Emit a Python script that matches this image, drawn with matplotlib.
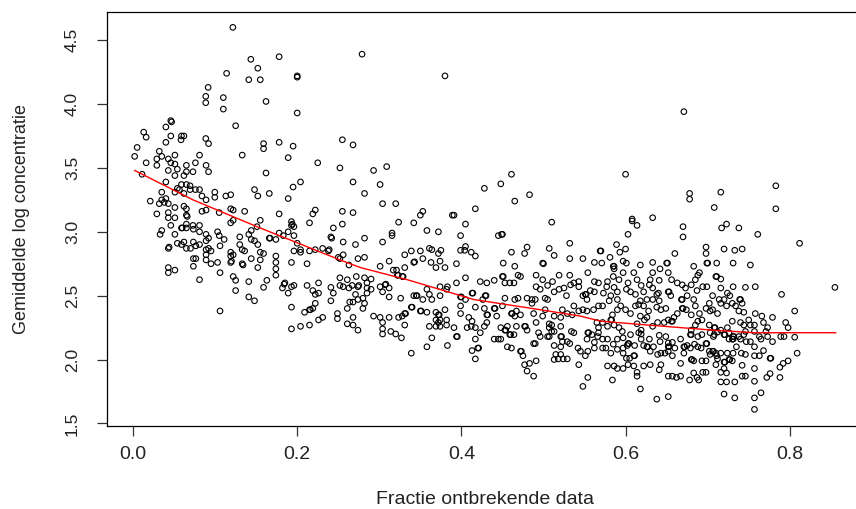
import matplotlib
matplotlib.use("Agg")
import matplotlib.pyplot as plt

plt.rcParams['font.family'] = ['Liberation Sans', 'DejaVu Sans']

# points, (fractie, gemiddelde log concentratie), per region
pts_upper_left = [
    (0.1216,4.60),(0.1435,4.35),(0.178,4.37),(0.152,4.28),(0.141,4.19),(0.155,4.19),(0.200,4.21),(0.200,4.22),
    (0.114,4.24),(0.0915,4.13),(0.0886,4.06),(0.0886,4.01),(0.110,4.05),(0.110,3.96),(0.162,4.02),(0.200,3.93),
    (0.125,3.83),(0.046,3.87),(0.047,3.86),(0.040,3.82),(0.013,3.78),(0.016,3.74),(0.046,3.75),(0.059,3.75),
    (0.062,3.75),(0.0585,3.72),(0.040,3.70),(0.0886,3.73),(0.092,3.69),(0.005,3.66),(0.002,3.59),(0.032,3.63),
    (0.029,3.57),(0.035,3.59),(0.043,3.57),(0.051,3.60),(0.046,3.54),(0.051,3.53),(0.016,3.54),(0.029,3.52),
    (0.065,3.52),(0.076,3.54),(0.081,3.60),(0.089,3.52),(0.043,3.48),(0.054,3.49),(0.065,3.47),(0.073,3.47),
    (0.092,3.47),(0.051,3.44),(0.062,3.44),(0.011,3.45),(0.133,3.60),(0.159,3.69),(0.178,3.70),(0.195,3.67),
    (0.159,3.65),(0.189,3.58),(0.225,3.54),(0.255,3.72),(0.268,3.68),(0.252,3.50),(0.162,3.46),(0.204,3.39),
    (0.195,3.35),(0.268,3.39),(0.148,3.33),(0.152,3.28),(0.166,3.30),(0.189,3.26),(0.040,3.39),(0.035,3.31),
    (0.051,3.31),(0.054,3.34),(0.059,3.37),(0.065,3.37),(0.0695,3.36),(0.0565,3.33),(0.062,3.30),(0.0695,3.33),
    (0.076,3.33),(0.081,3.33),(0.084,3.28),(0.089,3.25),(0.0996,3.31),(0.0996,3.27),(0.113,3.28),(0.119,3.29),
    (0.021,3.24),(0.035,3.25),(0.040,3.26),(0.032,3.22),(0.038,3.23),(0.043,3.22),(0.062,3.20),(0.065,3.18),
    (0.051,3.19),(0.029,3.14),(0.043,3.15),(0.043,3.11),(0.051,3.11),(0.065,3.13),(0.066,3.12),(0.084,3.16),
    (0.089,3.17),(0.105,3.15),(0.119,3.18),(0.122,3.17),(0.136,3.16),(0.178,3.14),(0.219,3.14),(0.222,3.17),
    (0.255,3.16),(0.268,3.15),
]

pts_lower_left = [
    (0.119,3.07),(0.122,3.09),(0.155,3.09),(0.193,3.08),(0.193,3.05),(0.194,3.06),(0.196,3.04),(0.215,3.07),
    (0.244,3.03),(0.255,3.06),(0.046,3.05),(0.065,3.06),(0.073,3.05),(0.081,3.05),(0.059,3.03),(0.060,3.03),
    (0.065,3.03),(0.0735,3.02),(0.081,3.00),(0.035,3.01),(0.033,2.98),(0.051,2.98),(0.089,2.98),(0.092,2.95),
    (0.089,2.93),(0.103,3.00),(0.105,2.97),(0.111,2.94),(0.130,2.96),(0.141,2.98),(0.144,3.01),(0.151,3.04),
    (0.144,2.94),(0.148,2.93),(0.152,2.90),(0.166,2.95),(0.167,2.95),(0.174,2.94),(0.178,2.99),(0.183,2.97),
    (0.189,3.00),(0.196,2.97),(0.200,2.91),(0.204,2.86),(0.204,2.84),(0.196,2.85),(0.215,2.85),(0.222,2.86),
    (0.231,2.87),(0.238,2.85),(0.239,2.86),(0.250,2.80),(0.252,2.79),(0.256,2.82),(0.263,2.74),(0.274,2.79),
    (0.256,2.92),(0.271,2.90),(0.241,2.96),(0.242,2.95),(0.043,2.87),(0.044,2.88),(0.054,2.91),(0.059,2.90),
    (0.062,2.92),(0.065,2.87),(0.070,2.87),(0.0735,2.92),(0.0765,2.89),(0.081,2.90),(0.089,2.86),(0.092,2.87),
    (0.095,2.85),(0.089,2.82),(0.106,2.89),(0.119,2.84),(0.130,2.90),(0.133,2.86),(0.136,2.85),(0.119,2.81),
    (0.122,2.82),(0.119,2.76),(0.120,2.77),(0.133,2.75),(0.134,2.74),(0.144,2.79),(0.155,2.84),(0.159,2.83),
    (0.155,2.78),(0.152,2.72),(0.174,2.81),(0.174,2.76),(0.174,2.71),(0.174,2.66),(0.193,2.76),(0.212,2.75),
    (0.0735,2.79),(0.0765,2.79),(0.0735,2.73),(0.089,2.78),(0.095,2.75),(0.103,2.76),(0.106,2.68),(0.043,2.72),
    (0.051,2.70),(0.043,2.68),(0.081,2.625),(0.122,2.65),(0.125,2.62),(0.125,2.54),(0.141,2.61),(0.141,2.49),
    (0.148,2.46),(0.159,2.565),(0.163,2.62),(0.182,2.56),(0.184,2.59),(0.185,2.60),(0.193,2.57),(0.189,2.52),
    (0.196,2.58),(0.212,2.58),(0.219,2.54),(0.222,2.51),(0.226,2.60),(0.226,2.52),(0.222,2.44),(0.219,2.40),
    (0.215,2.39),(0.216,2.39),(0.209,2.37),(0.193,2.41),(0.193,2.24),(0.204,2.26),(0.215,2.27),(0.226,2.31),
    (0.231,2.33),(0.241,2.565),(0.244,2.52),(0.241,2.46),(0.249,2.36),(0.249,2.32),(0.252,2.64),(0.261,2.625),
    (0.252,2.58),(0.256,2.57),(0.263,2.56),(0.267,2.58),(0.272,2.65),(0.274,2.57),(0.275,2.58),(0.271,2.51),
    (0.274,2.47),(0.261,2.40),(0.264,2.45),(0.268,2.45),(0.268,2.33),(0.261,2.28),(0.268,2.27),(0.274,2.23),
    (0.106,2.38),
]

pts_upper_mid = [
    (0.279,4.39),(0.380,4.22),(0.293,3.48),(0.309,3.51),(0.301,3.37),(0.282,3.30),(0.304,3.22),(0.320,3.22),
    (0.353,3.16),(0.350,3.13),(0.389,3.13),(0.391,3.13),(0.417,3.18),(0.428,3.34),(0.448,3.375),(0.461,3.45),
    (0.465,3.24),(0.483,3.29),
]

pts_lower_mid = [
    (0.3155,2.99),(0.3155,2.97),(0.304,2.92),(0.282,2.95),(0.3235,3.075),(0.342,3.07),(0.358,3.01),(0.372,3.00),
    (0.399,2.97),(0.405,3.06),(0.405,2.885),(0.399,2.855),(0.412,2.84),(0.417,2.81),(0.404,2.855),(0.449,2.98),
    (0.450,2.98),(0.445,2.97),(0.510,3.075),(0.532,2.91),(0.513,2.815),(0.507,2.87),(0.480,2.88),(0.477,2.83),
    (0.461,2.84),(0.451,2.755),(0.465,2.73),(0.472,2.65),(0.499,2.755),(0.500,2.75),(0.532,2.79),(0.548,2.79),
    (0.562,2.76),(0.554,2.68),(0.569,2.85),(0.339,2.85),(0.331,2.82),(0.350,2.85),(0.361,2.87),(0.364,2.86),
    (0.375,2.855),(0.372,2.83),(0.353,2.79),(0.363,2.76),(0.374,2.77),(0.342,2.76),(0.343,2.765),(0.312,2.77),
    (0.331,2.72),(0.301,2.73),(0.369,2.72),(0.380,2.72),(0.394,2.75),(0.405,2.64),(0.322,2.66),(0.323,2.66),
    (0.328,2.65),(0.329,2.65),(0.317,2.70),(0.321,2.70),(0.282,2.80),(0.282,2.64),(0.285,2.60),(0.290,2.63),
    (0.285,2.56),(0.285,2.52),(0.290,2.55),(0.280,2.48),(0.282,2.44),(0.280,2.40),(0.293,2.34),(0.301,2.57),
    (0.304,2.53),(0.307,2.585),(0.308,2.59),(0.312,2.56),(0.301,2.33),(0.304,2.29),(0.304,2.24),(0.304,2.20),
    (0.312,2.33),(0.314,2.22),(0.320,2.20),(0.327,2.17),(0.3235,2.33),(0.328,2.34),(0.331,2.36),(0.332,2.36),
    (0.331,2.27),(0.312,2.49),(0.326,2.48),(0.339,2.41),(0.340,2.41),(0.339,2.05),(0.342,2.50),(0.345,2.50),
    (0.346,2.50),(0.353,2.47),(0.350,2.38),(0.351,2.38),(0.358,2.55),(0.361,2.51),(0.364,2.47),(0.358,2.37),
    (0.361,2.26),(0.364,2.17),(0.358,2.10),(0.369,2.37),(0.372,2.35),(0.373,2.35),(0.369,2.31),(0.374,2.31),
    (0.369,2.26),(0.374,2.26),(0.372,2.29),(0.380,2.39),(0.382,2.31),(0.382,2.27),(0.383,2.11),(0.374,2.57),
    (0.374,2.50),(0.382,2.55),(0.383,2.57),(0.394,2.60),(0.391,2.25),(0.394,2.18),(0.395,2.18),(0.399,2.42),
    (0.399,2.49),(0.400,2.49),(0.399,2.36),(0.405,2.47),(0.407,2.25),(0.409,2.33),(0.413,2.52),(0.414,2.52),
    (0.413,2.30),(0.412,2.26),(0.417,2.41),(0.417,2.25),(0.417,2.16),(0.420,2.09),(0.421,2.09),(0.413,2.07),
    (0.417,2.005),(0.423,2.61),(0.426,2.47),(0.429,2.50),(0.430,2.50),(0.431,2.35),(0.432,2.35),(0.428,2.40),
    (0.428,2.26),(0.431,2.29),(0.423,2.21),(0.431,2.60),(0.440,2.62),(0.440,2.40),(0.441,2.40),(0.443,2.34),
    (0.440,2.16),(0.445,2.16),(0.448,2.16),(0.450,2.42),(0.450,2.65),(0.451,2.65),(0.453,2.60),(0.453,2.48),
    (0.448,2.25),(0.453,2.23),(0.454,2.23),(0.459,2.195),(0.460,2.195),(0.456,2.26),(0.461,2.36),(0.462,2.36),
    (0.459,2.60),(0.464,2.60),(0.465,2.47),(0.465,2.34),(0.467,2.38),(0.469,2.66),(0.469,2.48),(0.472,2.35),
    (0.456,2.10),(0.461,2.09),(0.464,2.195),(0.467,2.26),(0.472,2.065),(0.473,2.065),(0.475,2.03),(0.477,2.26),
    (0.478,2.26),(0.480,2.23),(0.480,2.48),(0.477,1.96),(0.483,1.97),(0.480,1.91),(0.488,1.87),(0.491,1.99),
    (0.486,2.47),(0.490,2.47),(0.486,2.44),(0.488,2.36),(0.491,2.29),(0.494,2.21),(0.488,2.125),(0.490,2.125),
    (0.496,2.18),(0.491,2.66),(0.491,2.57),(0.496,2.55),(0.499,2.625),(0.502,2.48),(0.505,2.47),(0.499,2.34),
    (0.502,2.39),(0.507,2.28),(0.510,2.27),(0.507,2.25),(0.510,2.22),(0.507,2.18),(0.513,2.34),(0.513,2.22),
    (0.521,2.26),(0.521,2.18),(0.522,2.18),(0.523,2.14),(0.521,2.10),(0.521,2.04),(0.515,2.04),(0.513,2.00),
    (0.518,2.005),(0.524,2.005),(0.529,2.005),(0.529,2.14),(0.532,2.125),(0.534,2.22),(0.537,2.21),(0.542,2.09),
    (0.545,2.065),(0.543,1.96),(0.554,1.86),(0.548,1.79),(0.551,2.03),(0.554,2.065),(0.553,2.16),(0.554,2.21),
    (0.555,2.21),(0.559,2.195),(0.562,2.09),(0.562,2.135),(0.566,2.18),(0.567,2.21),(0.521,2.33),(0.523,2.39),
    (0.529,2.36),(0.535,2.35),(0.537,2.42),(0.543,2.38),(0.548,2.39),(0.553,2.38),(0.561,2.39),(0.565,2.29),
    (0.567,2.25),(0.567,2.42),(0.513,2.53),(0.519,2.55),(0.525,2.56),(0.528,2.50),(0.533,2.585),(0.537,2.60),
    (0.543,2.61),(0.548,2.50),(0.551,2.51),(0.552,2.51),(0.553,2.47),(0.557,2.54),(0.562,2.61),(0.562,2.53),
    (0.567,2.60),(0.505,2.58),(0.511,2.61),(0.519,2.66),(0.532,2.66),(0.543,2.57),(0.513,2.11),(0.505,2.18),
]

pts_upper_right = [
    (0.671,3.94),(0.600,3.45),(0.783,3.36),(0.678,3.30),(0.678,3.255),(0.716,3.31),(0.708,3.19),(0.783,3.18),
    (0.633,3.11),(0.608,3.10),
]

pts_lower_right = [
    (0.608,3.085),(0.614,3.05),(0.670,3.04),(0.670,2.96),(0.717,3.03),(0.723,3.06),(0.738,3.03),(0.761,2.98),
    (0.812,2.91),(0.603,2.98),(0.589,2.90),(0.600,2.865),(0.593,2.84),(0.570,2.85),(0.581,2.80),(0.597,2.77),
    (0.601,2.755),(0.585,2.73),(0.586,2.73),(0.586,2.71),(0.597,2.68),(0.571,2.755),(0.618,2.74),(0.633,2.76),
    (0.642,2.71),(0.633,2.68),(0.650,2.755),(0.651,2.755),(0.660,2.83),(0.652,2.68),(0.656,2.625),(0.641,2.62),
    (0.630,2.625),(0.629,2.585),(0.614,2.625),(0.603,2.60),(0.601,2.55),(0.606,2.53),(0.612,2.51),(0.622,2.53),
    (0.633,2.56),(0.638,2.51),(0.640,2.52),(0.652,2.53),(0.653,2.53),(0.655,2.50),(0.673,2.56),(0.675,2.50),
    (0.668,2.47),(0.669,2.47),(0.683,2.73),(0.690,2.68),(0.688,2.66),(0.698,2.88),(0.698,2.83),(0.699,2.755),
    (0.700,2.755),(0.711,2.755),(0.720,2.865),(0.733,2.855),(0.742,2.865),(0.731,2.755),(0.752,2.74),(0.710,2.65),
    (0.711,2.65),(0.716,2.63),(0.685,2.625),(0.687,2.54),(0.694,2.57),(0.699,2.57),(0.683,2.47),(0.706,2.50),
    (0.702,2.44),(0.714,2.47),(0.720,2.47),(0.727,2.50),(0.739,2.47),(0.740,2.47),(0.742,2.44),(0.731,2.57),
    (0.746,2.565),(0.758,2.57),(0.790,2.51),(0.806,2.38),(0.855,2.565),(0.758,2.36),(0.766,2.34),(0.779,2.33),
    (0.768,2.29),(0.773,2.25),(0.795,2.29),(0.798,2.25),(0.789,2.18),(0.793,2.18),(0.806,2.175),(0.779,2.14),
    (0.768,2.07),(0.776,2.01),(0.777,2.01),(0.809,2.05),(0.798,1.99),(0.792,1.97),(0.788,1.94),(0.776,1.89),
    (0.772,1.86),(0.788,1.86),(0.757,1.93),(0.757,1.83),(0.765,1.74),(0.757,1.70),(0.757,1.61),(0.733,1.70),
    (0.720,1.73),(0.652,1.71),(0.638,1.69),(0.618,1.77),(0.584,1.84),(0.614,1.90),(0.614,1.87),(0.630,1.96),
    (0.641,1.92),(0.643,1.96),(0.652,1.87),(0.657,1.87),(0.662,1.86),(0.667,1.87),(0.678,1.84),(0.683,1.895),
    (0.687,1.86),(0.689,1.84),(0.694,1.90),(0.698,1.90),(0.716,1.825),(0.723,1.825),(0.733,1.825),(0.716,1.90),
    (0.720,1.93),(0.723,1.895),(0.742,1.87),(0.746,1.87),(0.742,1.955),(0.720,1.98),(0.721,1.98),(0.726,2.00),
    (0.727,2.00),(0.730,1.99),(0.710,1.96),(0.712,2.005),(0.703,2.04),(0.711,2.03),(0.693,1.99),(0.698,1.99),
    (0.680,2.00),(0.681,2.00),(0.683,1.99),(0.671,2.05),(0.667,1.97),(0.657,2.03),(0.652,2.065),(0.648,2.05),
    (0.643,2.05),(0.639,2.04),(0.630,2.065),(0.622,1.95),(0.610,1.95),(0.603,1.96),(0.597,1.93),(0.590,1.93),
    (0.586,1.95),(0.578,1.95),(0.610,2.03),(0.611,2.03),(0.605,2.01),(0.601,2.01),(0.597,2.05),(0.602,2.11),
    (0.597,2.09),(0.590,2.08),(0.582,2.05),(0.585,2.12),(0.576,2.09),(0.572,2.09),(0.572,2.16),(0.578,2.16),
    (0.590,2.16),(0.597,2.17),(0.603,2.125),(0.604,2.125),(0.611,2.11),(0.619,2.20),(0.619,2.16),(0.622,2.11),
    (0.626,2.10),(0.627,2.10),(0.629,2.16),(0.634,2.10),(0.641,2.19),(0.642,2.14),(0.649,2.18),(0.652,2.13),
    (0.652,2.10),(0.653,2.10),(0.657,2.135),(0.660,2.09),(0.667,2.16),(0.671,2.10),(0.672,2.10),(0.675,2.11),
    (0.679,2.09),(0.684,2.12),(0.688,2.10),(0.692,2.09),(0.698,2.125),(0.699,2.125),(0.702,2.065),(0.706,2.065),
    (0.707,2.065),(0.710,2.05),(0.716,2.05),(0.724,2.05),(0.731,2.05),(0.735,2.10),(0.741,2.05),(0.746,2.04),
    (0.757,2.03),(0.763,2.03),(0.757,2.10),(0.752,2.14),(0.747,2.14),(0.740,2.16),(0.730,2.16),(0.731,2.16),
    (0.726,2.16),(0.720,2.195),(0.721,2.195),(0.726,2.21),(0.731,2.18),(0.732,2.18),(0.738,2.18),(0.744,2.195),
    (0.746,2.22),(0.752,2.27),(0.757,2.27),(0.757,2.22),(0.763,2.18),(0.765,2.16),(0.773,2.18),(0.771,2.22),
    (0.712,2.215),(0.708,2.195),(0.707,2.18),(0.703,2.21),(0.693,2.195),(0.688,2.18),(0.679,2.195),(0.680,2.195),
    (0.680,2.23),(0.685,2.27),(0.688,2.30),(0.693,2.31),(0.702,2.27),(0.708,2.25),(0.709,2.25),(0.716,2.23),
    (0.724,2.25),(0.730,2.30),(0.740,2.29),(0.744,2.27),(0.750,2.31),(0.744,2.37),(0.738,2.38),(0.730,2.44),
    (0.734,2.42),(0.723,2.42),(0.716,2.44),(0.712,2.36),(0.706,2.39),(0.703,2.38),(0.698,2.40),(0.690,2.36),
    (0.685,2.42),(0.680,2.35),(0.674,2.39),(0.669,2.40),(0.670,2.40),(0.663,2.36),(0.659,2.33),(0.652,2.31),
    (0.647,2.29),(0.656,2.30),(0.657,2.30),(0.639,2.29),(0.633,2.26),(0.626,2.33),(0.623,2.31),(0.618,2.34),
    (0.614,2.28),(0.619,2.23),(0.616,2.21),(0.606,2.195),(0.596,2.22),(0.592,2.25),(0.586,2.27),(0.578,2.26),
    (0.572,2.29),(0.582,2.31),(0.583,2.31),(0.584,2.35),(0.590,2.39),(0.594,2.42),(0.600,2.39),(0.606,2.36),
    (0.612,2.42),(0.616,2.43),(0.622,2.42),(0.628,2.38),(0.638,2.41),(0.643,2.39),(0.649,2.40),(0.633,2.47),
    (0.641,2.46),(0.626,2.47),(0.618,2.46),(0.590,2.47),(0.580,2.46),(0.572,2.42),(0.573,2.52),(0.582,2.50),
    (0.590,2.53),(0.586,2.565),(0.577,2.57),(0.578,2.61),(0.585,2.65),(0.592,2.625),(0.610,2.68),(0.619,2.58),
    (0.663,2.60),(0.669,2.585),(0.680,2.585),(0.716,2.56),(0.724,2.52),
]

# red trend line
fit_frac = [0.002, 0.073, 0.151, 0.252, 0.277, 0.334, 0.415, 0.496, 0.545, 0.570, 0.627, 0.707, 0.756, 0.856]
fit_conc = [3.48, 3.25, 3.04, 2.78, 2.72, 2.625, 2.47, 2.39, 2.34, 2.30, 2.27, 2.23, 2.21, 2.21]

x_ticks = [0.0, 0.2, 0.4, 0.6, 0.8]
y_ticks = [1.5, 2.0, 2.5, 3.0, 3.5, 4.0, 4.5]

all_pts = pts_upper_left + pts_lower_left + pts_upper_mid + pts_lower_mid + pts_upper_right + pts_lower_right
frac = [p[0] for p in all_pts]
conc = [p[1] for p in all_pts]

fig = plt.figure(figsize=(8.56, 5.09), dpi=100)
ax = fig.add_axes([107/856, 1-426/509, 755/856, 414/509])

ax.scatter(frac, conc, s=16, facecolors='none', edgecolors='black', linewidths=0.8, zorder=2)
ax.plot(fit_frac, fit_conc, color='red', lw=1.0, zorder=3)

ax.set_xlim(-0.0317, 0.888)
ax.set_ylim(1.48, 4.72)
ax.set_xticks(x_ticks)
ax.set_xticklabels(['%.1f' % v for v in x_ticks])
ax.set_yticks(y_ticks)
ax.set_yticklabels(['%.1f' % v for v in y_ticks], rotation=90, va='center')

for s in ax.spines.values():
    s.set_color('black')
    s.set_linewidth(0.9)
ax.tick_params(direction='out', length=7.5, width=0.9, colors='#333333')
ax.tick_params(axis='x', labelsize=14, pad=7, labelcolor='#222222')
ax.tick_params(axis='y', labelsize=12.5, pad=12, labelcolor='#222222')

ax.set_xlabel("Fractie ontbrekende data", fontsize=14, color='#222222', labelpad=20)
ax.set_ylabel("Gemiddelde log concentratie", fontsize=13, color='#222222', labelpad=25)

fig.savefig("out.png", dpi=100)
